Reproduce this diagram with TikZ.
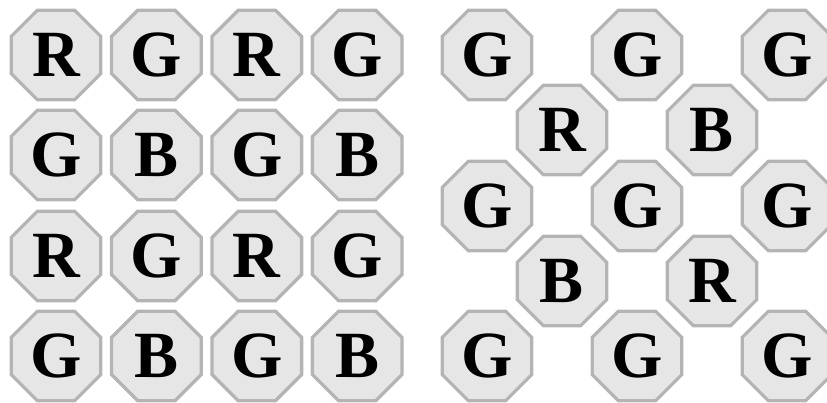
\documentclass[tikz,border=0pt]{standalone}
\usepackage{fontspec}
\setmainfont{Liberation Serif}
\usetikzlibrary{shapes.geometric}

\definecolor{tileline}{RGB}{180,180,180}
\definecolor{tilefill}{RGB}{230,230,230}

\tikzset{
    tile/.style={regular polygon, regular polygon sides=8, minimum size=97pt,
        inner sep=0pt, draw=tileline, fill=tilefill, line width=3.3pt,
        font=\fontsize{66}{66}\selectfont\bfseries}
}

\begin{document}
\begin{tikzpicture}[x=1pt, y=-1pt]

        \useasboundingbox (0, 0) rectangle (827, 403);

        % left: square grid, 4 x 4
        \foreach \r/\y/\letters in {1/55/{R,G,R,G}, 2/155/{G,B,G,B},
                                    3/256/{R,G,R,G}, 4/356/{G,B,G,B}} {
            \foreach \c [count=\k] in \letters {
                \node[tile] (sq\r\k) at ({56 + 100.4*(\k-1)}, \y) {\c};
            }
        }

        % right: staggered layout
        \node[tile] (hx11) at (487, 55) {G};
        \node[tile] (hx12) at (637, 55) {G};
        \node[tile] (hx13) at (787, 55) {G};

        \node[tile] (hx21) at (562, 130) {R};
        \node[tile] (hx22) at (712, 130) {B};

        \node[tile] (hx31) at (487, 206) {G};
        \node[tile] (hx32) at (637, 206) {G};
        \node[tile] (hx33) at (787, 206) {G};

        \node[tile] (hx41) at (562, 281) {B};
        \node[tile] (hx42) at (712, 281) {R};

        \node[tile] (hx51) at (487, 356) {G};
        \node[tile] (hx52) at (637, 356) {G};
        \node[tile] (hx53) at (787, 356) {G};

    \end{tikzpicture}
\end{document}
